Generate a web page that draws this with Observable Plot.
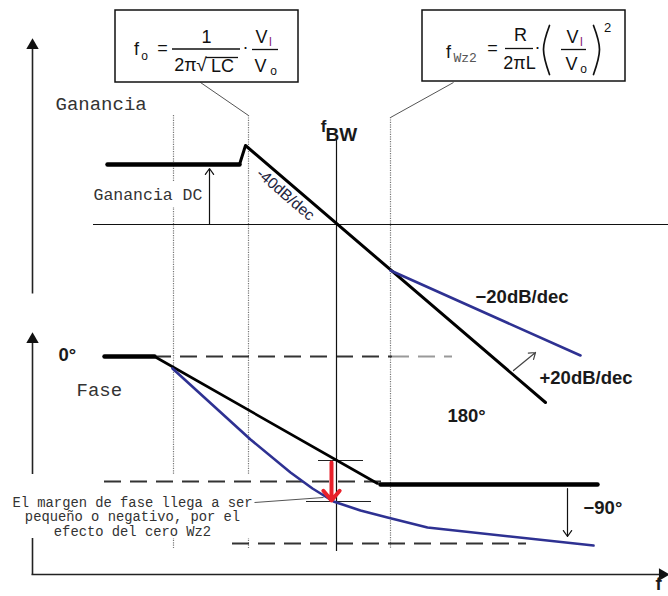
<!DOCTYPE html>
<html>
<head>
<meta charset="utf-8">
<script src="https://cdn.jsdelivr.net/npm/d3@7"></script>
<script src="https://cdn.jsdelivr.net/npm/@observablehq/plot@0.6"></script>
<style>
  body { margin: 0; background: #fff; }
  #chart svg { display: block; }
</style>
</head>
<body>
<div id="chart"></div>
<script>
// Schematic Bode diagram of a boost-type converter loop.
// f = horizontal position (frequency, left → right), v = vertical position (top → bottom).

// Gain asymptotes
const gainFlat   = [{f: 107, v: 164}, {f: 239, v: 164}];
const gainSlope  = [{f: 239, v: 164}, {f: 245, v: 145}, {f: 545, v: 402}];
const gainZero   = [{f: 390, v: 270}, {f: 580, v: 355}];

// Phase asymptotes
const phaseFlat0   = [{f: 104, v: 356}, {f: 154, v: 356}];
const phaseSlope   = [{f: 154, v: 356}, {f: 377, v: 483}];
const phaseFlat90  = [{f: 380, v: 484}, {f: 597, v: 484}];
const phaseZero    = [
  {f: 172, v: 368}, {f: 250, v: 439}, {f: 290, v: 472}, {f: 312, v: 488},
  {f: 333, v: 501}, {f: 360, v: 510}, {f: 387, v: 517}, {f: 427, v: 527},
  {f: 593, v: 545}
];

// Reference levels (0 dB line, phase levels)
const zeroDb      = [{v: 224, f1: 93, f2: 668}];
const phaseLevels = [
  {v: 356, f1: 154, f2: 392, c: "#333"},
  {v: 356, f1: 392, f2: 452, c: "#999"},
  {v: 481, f1: 104, f2: 382, c: "#333"},
  {v: 543, f1: 232, f2: 526, c: "#333"}
];

// Corner frequencies (f0, fWz2) and crossover fBW
const cornerGuides = [
  {f: 173, v1: 115, v2: 548},
  {f: 248, v1: 115, v2: 548},
  {f: 390, v1: 117, v2: 548}
];
const crossover = [{f: 336, v1: 140, v2: 551}];
const marginTicks = [
  {v: 460, f1: 318, f2: 363},
  {v: 501, f1: 306, f2: 371}
];

// Axes
const axisLines = [
  {f1: 32, v1: 293, f2: 32, v2: 46},
  {f1: 32, v1: 574, f2: 32, v2: 340},
  {f1: 31, v1: 574, f2: 660, v2: 574}
];
const axisHeads = [
  {f: 32, v: 45, angle: 0},
  {f: 32, v: 339, angle: 0},
  {f: 662, v: 574, angle: 90}
];

// Annotation arrows
const thinArrows = [
  {f1: 209, v1: 224, f2: 209, v2: 168},   // Ganancia DC
  {f1: 567, v1: 488, f2: 567, v2: 536},   // −90°
];
const slopeArrow = [{f1: 513, v1: 370, f2: 535, v2: 352}];
const marginArrow = [{f1: 331, v1: 462, f2: 331, v2: 500}];

// Leader lines
const leaders = [
  {f1: 200, v1: 82, f2: 248, v2: 115},
  {f1: 453, v1: 82, f2: 390, v2: 117},
  {f1: 254, v1: 502, f2: 323, v2: 497}
];

// Formula boxes
const boxes = [
  {f1: 115, f2: 298, v1: 10, v2: 82},
  {f1: 422, f2: 625, v1: 10, v2: 81}
];
// Label backdrops
const backdrops = [
  {f1: 90, f2: 205, v1: 182, v2: 207},
  {f1: 8, f2: 256, v1: 474, v2: 538}
];

// Monospace labels
const monoLarge = [
  {f: 55, v: 103, t: "Ganancia"},
  {f: 76, v: 389, t: "Fase"}
];
const monoMedium = [{f: 93, v: 194, t: "Ganancia DC"}];
const noteLines = [
  {f: 132, v: 502, t: "El margen de fase llega a ser"},
  {f: 132, v: 516.5, t: "pequeño o negativo, por el"},
  {f: 132, v: 531, t: "efecto del cero Wz2"}
];

// Bold sans labels
const boldLabels = [
  {f: 475, v: 297, t: "−20dB/dec"},
  {f: 539, v: 378, t: "+20dB/dec"},
  {f: 447, v: 416, t: "180°"},
  {f: 583, v: 508, t: "−90°"},
  {f: 58, v: 355, t: "0°"},
  {f: 655, v: 584, t: "f"}
];
const bwLabelF  = [{f: 323, v: 126, t: "f"}];
const bwLabelBW = [{f: 325, v: 134, t: "BW"}];
const slopeLabel = [{f: 285, v: 194, t: "-40dB/dec"}];

// Formula glyphs: f0 = 1/(2π√LC) · VI/Vo   and   fWz2 = R/(2πL) · (VI/Vo)²
const formulaMain = [
  {f: 136, v: 49, t: "f"}, {f: 162, v: 48, t: "="}, {f: 206, v: 37, t: "1"},
  {f: 185, v: 65, t: "2π"}, {f: 222, v: 66, t: "LC"}, {f: 245, v: 47, t: "·"},
  {f: 261, v: 37, t: "V"}, {f: 260, v: 66, t: "V"},
  {f: 448, v: 52, t: "f"}, {f: 492, v: 48, t: "="}, {f: 520, v: 35, t: "R"},
  {f: 519, v: 63, t: "2πL"}, {f: 537, v: 47, t: "·"},
  {f: 572, v: 37, t: "V"}, {f: 571, v: 64, t: "V"}
];
const formulaRoot = [{f: 201, v: 64, t: "√"}];
const formulaSub = [
  {f: 144, v: 56, t: "o"}, {f: 273, v: 71, t: "o"}, {f: 583, v: 69, t: "o"}
];
const formulaSubI = [{f: 270, v: 42, t: "I"}, {f: 581, v: 42, t: "I"}];
const formulaSup = [{f: 607, v: 27, t: "2"}];
const formulaWz = [{f: 453, v: 57, t: "Wz2"}];
const fractionBars = [
  {v: 48.5, f1: 172, f2: 240}, {v: 57, f1: 206, f2: 238}, {v: 49, f1: 252, f2: 278},
  {v: 48, f1: 505, f2: 533}, {v: 49, f1: 561, f2: 586}
];
const parenLeft  = [{f: 549, v: 25}, {f: 543, v: 49}, {f: 549, v: 74}];
const parenRight = [{f: 593, v: 25}, {f: 599, v: 49}, {f: 593, v: 74}];

const BLUE = "#2e3192";
const SANS = "Liberation Sans, Arial, sans-serif";
const MONO = "Liberation Mono, Courier New, monospace";

const chart = Plot.plot({
  width: 668,
  height: 596,
  margin: 0,
  x: {domain: [0, 668], range: [0, 668], axis: null},
  y: {domain: [0, 596], range: [0, 596], axis: null},
  style: {background: "#fff"},
  marks: [
    // guides and axes
    Plot.ruleX(cornerGuides, {x: "f", y1: "v1", y2: "v2", stroke: "#777", strokeDasharray: "1.2,1.2", strokeWidth: 1.2}),
    Plot.link(axisLines, {x1: "f1", y1: "v1", x2: "f2", y2: "v2", stroke: "#222", strokeWidth: 1.6}),
    Plot.dot(axisHeads, {x: "f", y: "v", symbol: "triangle", r: 4.6, fill: "#111", stroke: null, rotate: "angle"}),
    Plot.rect(backdrops, {x1: "f1", x2: "f2", y1: "v1", y2: "v2", fill: "#fff"}),
    Plot.ruleY(zeroDb, {y: "v", x1: "f1", x2: "f2", stroke: "#111", strokeWidth: 1.2}),
    Plot.ruleY(phaseLevels, {y: "v", x1: "f1", x2: "f2", stroke: "c", strokeWidth: 2, strokeDasharray: "17,9"}),
    Plot.ruleX(crossover, {x: "f", y1: "v1", y2: "v2", stroke: "#111", strokeWidth: 1.2}),
    Plot.ruleY(marginTicks, {y: "v", x1: "f1", x2: "f2", stroke: "#222", strokeWidth: 1.2}),
    Plot.link(leaders, {x1: "f1", y1: "v1", x2: "f2", y2: "v2", stroke: "#555", strokeWidth: 1}),

    // gain curves
    Plot.line(gainFlat, {x: "f", y: "v", stroke: "#000", strokeWidth: 4.5}),
    Plot.line(gainSlope, {x: "f", y: "v", stroke: "#000", strokeWidth: 3}),
    Plot.line(gainZero, {x: "f", y: "v", stroke: BLUE, strokeWidth: 2.6}),

    // phase curves
    Plot.line(phaseFlat0, {x: "f", y: "v", stroke: "#000", strokeWidth: 4.5}),
    Plot.line(phaseSlope, {x: "f", y: "v", stroke: "#000", strokeWidth: 2.6}),
    Plot.line(phaseFlat90, {x: "f", y: "v", stroke: "#000", strokeWidth: 4.5}),
    Plot.line(phaseZero, {x: "f", y: "v", stroke: BLUE, strokeWidth: 2.6}),

    // arrows
    Plot.arrow(thinArrows, {x1: "f1", y1: "v1", x2: "f2", y2: "v2", stroke: "#111", strokeWidth: 1.2, headLength: 9, headAngle: 70}),
    Plot.arrow(slopeArrow, {x1: "f1", y1: "v1", x2: "f2", y2: "v2", stroke: "#444", strokeWidth: 1.2, headLength: 9, headAngle: 70}),
    Plot.arrow(marginArrow, {x1: "f1", y1: "v1", x2: "f2", y2: "v2", stroke: "#e8202a", strokeWidth: 4, headLength: 9, headAngle: 80}),

    // formula boxes
    Plot.rect(boxes, {x1: "f1", x2: "f2", y1: "v1", y2: "v2", fill: "none", stroke: "#111", strokeWidth: 1.5}),
    Plot.ruleY(fractionBars, {y: "v", x1: "f1", x2: "f2", stroke: "#111", strokeWidth: 1.3}),
    Plot.line(parenLeft, {x: "f", y: "v", curve: "natural", stroke: "#111", strokeWidth: 1.7}),
    Plot.line(parenRight, {x: "f", y: "v", curve: "natural", stroke: "#111", strokeWidth: 1.7}),
    Plot.text(formulaMain, {x: "f", y: "v", text: "t", fontSize: 18, fontFamily: SANS, fill: "#111"}),
    Plot.text(formulaRoot, {x: "f", y: "v", text: "t", fontSize: 19, fontFamily: SANS, fill: "#111"}),
    Plot.text(formulaSub, {x: "f", y: "v", text: "t", fontSize: 12, fontFamily: SANS, fill: "#111"}),
    Plot.text(formulaSubI, {x: "f", y: "v", text: "t", fontSize: 12, fontFamily: SANS, fill: "#8a2b7a"}),
    Plot.text(formulaSup, {x: "f", y: "v", text: "t", fontSize: 13, fontFamily: SANS, fill: "#111"}),
    Plot.text(formulaWz, {x: "f", y: "v", text: "t", textAnchor: "start", fontSize: 13, fontFamily: MONO, fill: "#555"}),

    // labels
    Plot.text(monoLarge, {x: "f", y: "v", text: "t", textAnchor: "start", fontSize: 19, fontFamily: MONO, fill: "#333"}),
    Plot.text(monoMedium, {x: "f", y: "v", text: "t", textAnchor: "start", fontSize: 16.5, fontFamily: MONO, fill: "#333"}),
    Plot.text(noteLines, {x: "f", y: "v", text: "t", fontSize: 13.8, fontFamily: MONO, fill: "#333"}),
    Plot.text(boldLabels, {x: "f", y: "v", text: "t", textAnchor: "start", fontSize: 18.5, fontWeight: "bold", fontFamily: SANS, fill: "#1a1a1a"}),
    Plot.text(bwLabelF, {x: "f", y: "v", text: "t", fontSize: 17, fontWeight: "bold", fontFamily: SANS, fill: "#1a1a1a"}),
    Plot.text(bwLabelBW, {x: "f", y: "v", text: "t", textAnchor: "start", fontSize: 19, fontWeight: "bold", fontFamily: SANS, fill: "#1a1a1a"}),
    Plot.text(slopeLabel, {x: "f", y: "v", text: "t", rotate: 40.7, fontSize: 15.5, fontFamily: SANS, fill: "#1e2540"})
  ]
});

document.getElementById("chart").append(chart);
</script>
</body>
</html>
